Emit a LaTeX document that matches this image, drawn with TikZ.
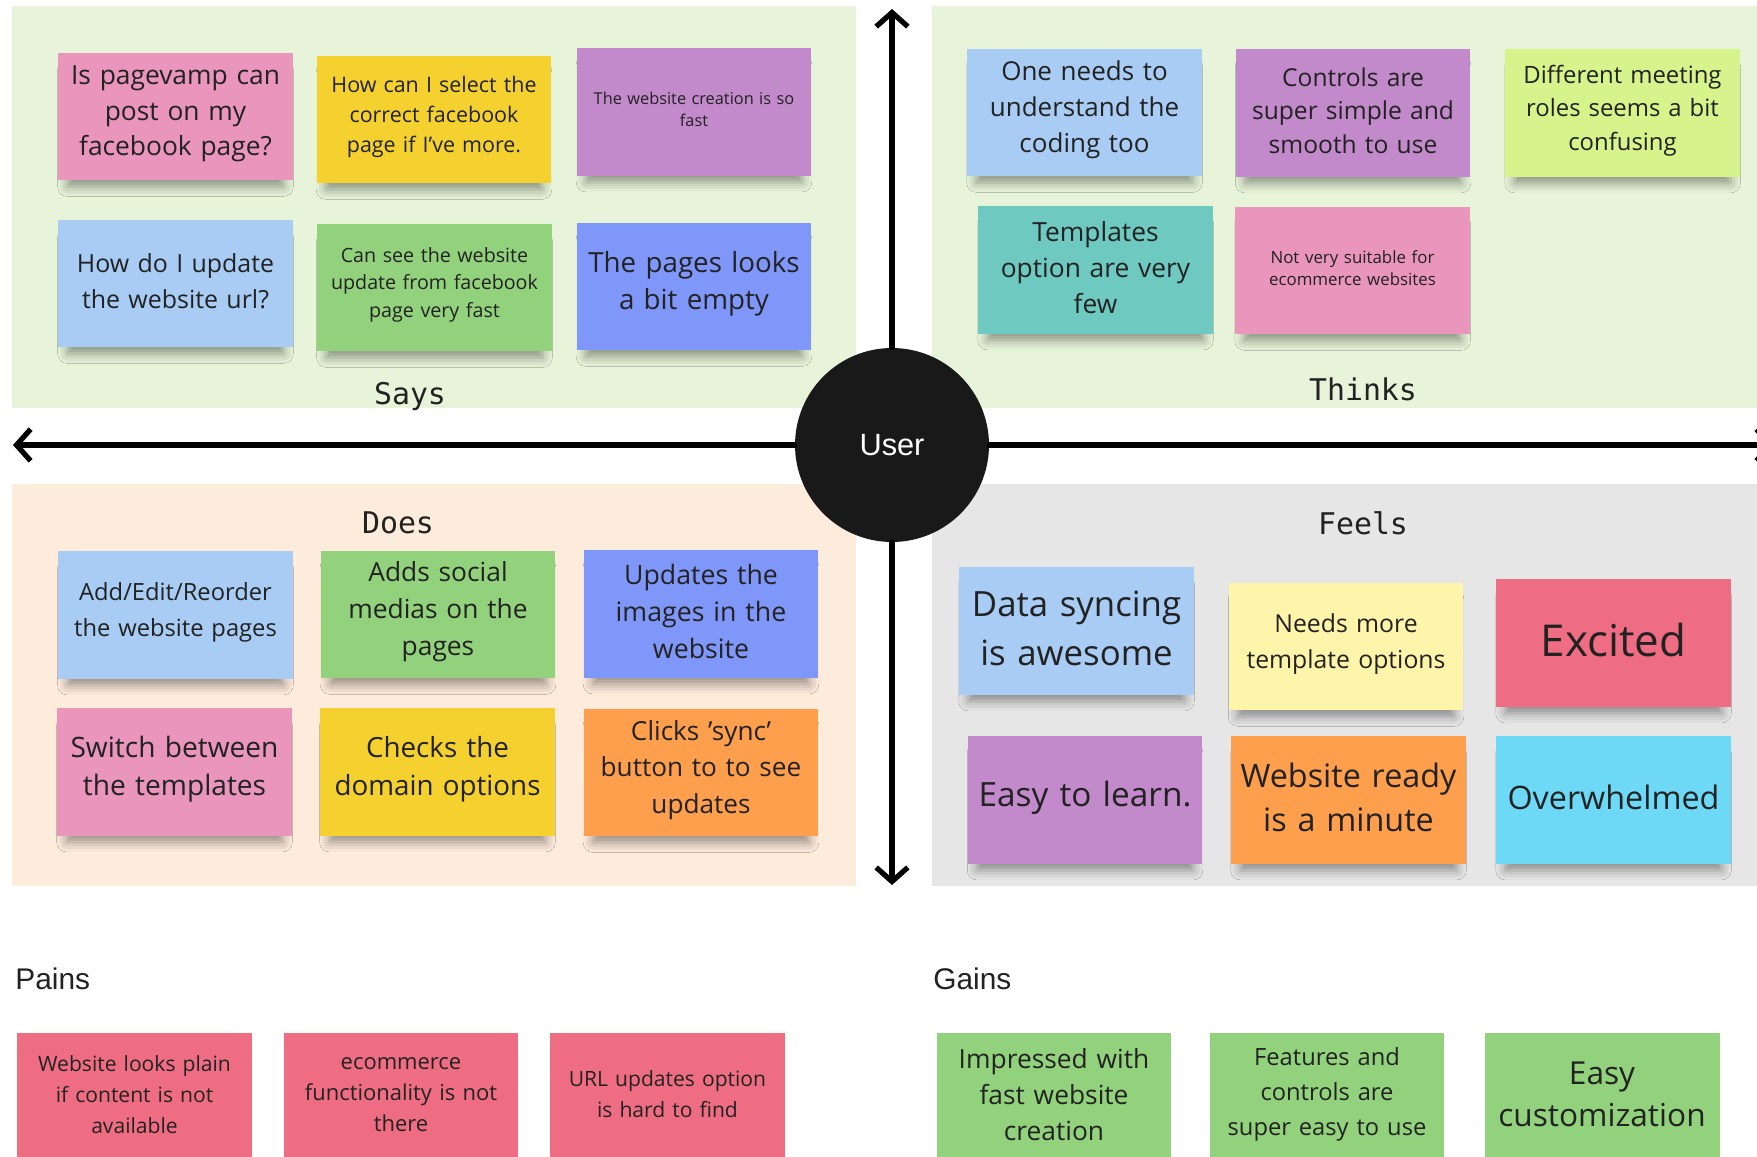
\documentclass[tikz,border=0pt]{standalone}
\usepackage{fontspec}
\setmainfont{Open Sans}
\newfontfamily\quadfont{DejaVu Sans Mono}
\newfontfamily\headfont{Liberation Sans}
\usetikzlibrary{arrows.meta,shadows.blur}
\definecolor{ink}{HTML}{222222}
\definecolor{bggreen}{HTML}{E7F4DA}
\definecolor{bgpeach}{HTML}{FDEBDC}
\definecolor{bggray}{HTML}{E6E6E6}
\definecolor{npink}{HTML}{EA95BC}
\definecolor{nyellow}{HTML}{F4D12E}
\definecolor{npurple}{HTML}{C28ACA}
\definecolor{nblue}{HTML}{A8CCF4}
\definecolor{ngreen}{HTML}{93D27C}
\definecolor{nviolet}{HTML}{7F97F9}
\definecolor{nteal}{HTML}{6EC9C0}
\definecolor{nlime}{HTML}{D6F48B}
\definecolor{norange}{HTML}{FE9F4E}
\definecolor{npale}{HTML}{FFF5AA}
\definecolor{nred}{HTML}{EF6D83}
\definecolor{ncyan}{HTML}{6DD9F6}
\tikzset{
  note/.style={minimum width=4.7cm, minimum height=2.56cm, inner sep=0pt, text width=4.4cm, align=center, text=ink,
    blur shadow={shadow xshift=0pt, shadow yshift=-7pt, shadow scale=0.92, shadow opacity=40, shadow blur radius=6pt}},
  quad/.style={font=\quadfont\fontsize{17}{20}\selectfont, text=ink},
  head/.style={font=\headfont\fontsize{17}{20}\selectfont, text=ink, anchor=west, inner sep=0pt},
  axis/.style={line width=3pt, -{Straight Barb[length=8pt,width=18pt]}}
}
\begin{document}
\begin{tikzpicture}[x=0.02cm, y=-0.02cm, line join=round, line cap=round]
\useasboundingbox (0,0) rectangle (1757,1156);
\clip (0,0) rectangle (1757,1156);
% quadrants
\fill[bggreen] (12,6) rectangle (856,408) (932,6) rectangle (1757,408);
\fill[bgpeach] (12,484) rectangle (856,886);
\fill[bggray] (932,484) rectangle (1757,886);
\path (892,9) coordinate (top) (892,885) coordinate (bottom) (13,445) coordinate (left) (1774,445) coordinate (right);
\node[circle, fill=black!90, minimum size=3.88cm, text=white, font=\headfont\fontsize{17.5}{20}\selectfont] (user) at (892,445) {User};
\foreach \p in {top,bottom,left,right} {\draw[axis] (user) -- (\p);}
\foreach \nm/\x/\y/\t in {says/410/397/Says, thinks/1363/389/Thinks, does/398/523/Does, feels/1363/523/Feels} \node[quad] (\nm) at (\x,\y) {\t};
\node[head] (pains) at (15,979) {Pains};
\node[head] (gains) at (933,979) {Gains};
% sticky notes
\foreach \nm/\x/\y/\c/\fs/\bs/\t in {
  sa/175.5/116.5/npink/15/20.4/{Is pagevamp can\\post on my\\facebook page?},
  sb/434/119.5/nyellow/12.2/17.2/{How can I select the\\correct facebook\\page if I've more.},
  sc/694/112/npurple/9.3/12.7/{The website creation is so\\fast},
  sd/175.5/283.5/nblue/14.2/20.4/{How do I update\\the website url?},
  se/434.5/287.5/ngreen/11.2/15.6/{Can see the website\\update from facebook\\page very fast},
  sf/694/286.5/nviolet/15.8/21.3/{The pages looks\\a bit empty},
  ta/1084.5/112.5/nblue/14.8/20.7/{One needs to\\understand the\\coding too},
  tb/1353/113/npurple/14/19.1/{Controls are\\super simple and\\smooth to use},
  tc/1622.5/113/nlime/13.6/19.1/{Different meeting\\roles seems a bit\\confusing},
  td/1095.5/270/nteal/15/20.4/{Templates\\option are very\\few},
  te/1352.5/270.5/npink/9.6/12.7/{Not very suitable for\\ecommerce websites},
  da/175.5/615/nblue/13.5/20.4/{Add/Edit/Reorder\\the website pages},
  db/438/614.5/ngreen/15/21/{Adds social\\medias on the\\pages},
  dc/701/614/nviolet/15.2/21/{Updates the\\images in the\\website},
  dd/174.5/772/npink/16/21.7/{Switch between\\the templates},
  de/437.5/772/nyellow/15.8/21.7/{Checks the\\domain options},
  df/701/772.5/norange/14.9/20.7/{Clicks 'sync'\\button to to see\\updates},
  fa/1076.5/631/nblue/19.8/27.4/{Data syncing\\is awesome},
  fb/1346/646.5/npale/14.1/20.4/{Needs more\\template options},
  fc/1613.5/643/nred/25/30/{Excited},
  fd/1085/800/npurple/19/25/{Easy to learn.},
  fe/1348.5/800/norange/18.4/24.9/{Website ready\\is a minute},
  ff/1613.5/800/ncyan/18.4/24/{Overwhelmed},
  pa/134.5/1097/nred/12/17.5/{Website looks plain\\if content is not\\available},
  pb/401/1097/nred/12.5/17.5/{ecommerce\\functionality is not\\there},
  pc/667.5/1097/nred/12/17.5/{URL updates option\\is hard to find},
  ga/1054/1097/ngreen/15/20.4/{Impressed with\\fast website\\creation},
  gb/1327/1097/ngreen/13.5/19.8/{Features and\\controls are\\super easy to use},
  gc/1602/1097/ngreen/18/24.2/{Easy\\customization}}
  \node[note, fill=\c, font=\fontsize{\fs}{\bs}\selectfont] (\nm) at (\x,\y) {\t\endgraf\nointerlineskip\vskip3pt\null};
\end{tikzpicture}
\end{document}
